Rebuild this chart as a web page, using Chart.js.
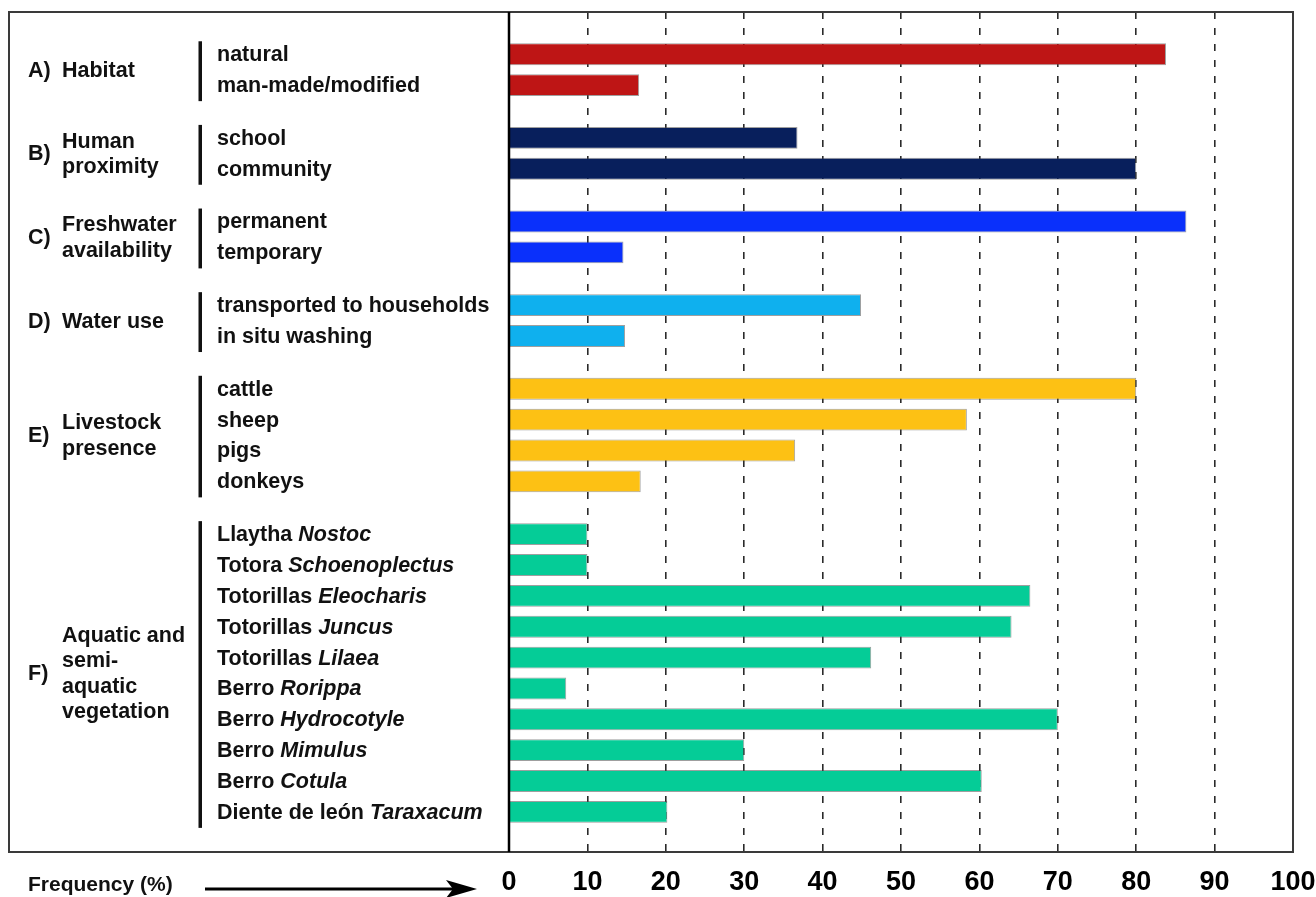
<!DOCTYPE html>
<html>
<head>
<meta charset="utf-8">
<script src="https://cdn.jsdelivr.net/npm/chart.js@4.4.1/dist/chart.umd.min.js"></script>
<style>
  body { margin: 0; background: #fff; }
</style>
</head>
<body>
<canvas id="chart" width="1316" height="897"></canvas>
<script>
// groups (left column)
const groupLetters = ['A)', 'B)', 'C)', 'D)', 'E)', 'F)'];
const groupNames = [
  ['Habitat'],
  ['Human', 'proximity'],
  ['Freshwater', 'availability'],
  ['Water use'],
  ['Livestock', 'presence'],
  ['Aquatic and', 'semi-', 'aquatic', 'vegetation']
];
const groupSizes = [2, 2, 2, 2, 4, 10];
const groupColors = ['#be1515', '#081f5c', '#0a30fb', '#0fb0ee', '#fdc114', '#05cc97'];

// items: common name + italic genus
const itemNames = [
  'natural', 'man-made/modified',
  'school', 'community',
  'permanent', 'temporary',
  'transported to households', 'in situ washing',
  'cattle', 'sheep', 'pigs', 'donkeys',
  'Llaytha', 'Totora', 'Totorillas', 'Totorillas', 'Totorillas',
  'Berro', 'Berro', 'Berro', 'Berro', 'Diente de león'
];
const itemGenus = [
  '', '', '', '', '', '', '', '', '', '', '', '',
  'Nostoc', 'Schoenoplectus', 'Eleocharis', 'Juncus', 'Lilaea',
  'Rorippa', 'Hydrocotyle', 'Mimulus', 'Cotula', 'Taraxacum'
];
const frequency = [
  83.8, 16.6,
  36.8, 80.0,
  86.4, 14.6,
  44.9, 14.8,
  80.0, 58.4, 36.5, 16.8,
  10.0, 10.0, 66.5, 64.1, 46.2, 7.3, 70.0, 30.0, 60.3, 20.2
];
const freqTicks = [0, 10, 20, 30, 40, 50, 60, 70, 80, 90, 100];

// row positions: one unit per bar, extra space between groups
const groupGap = 0.71;
const rowPos = [];
const rowColor = [];
let p = 0;
groupSizes.forEach((n, g) => {
  for (let i = 0; i < n; i++) { rowPos.push(p); rowColor.push(groupColors[g]); p += 1; }
  p += groupGap;
});
const lastPos = rowPos[rowPos.length - 1];

const FONT = '"Liberation Sans", Arial, Helvetica, sans-serif';
const labelFont = 'bold 21.5px ' + FONT;
const italicFont = 'italic bold 21.5px ' + FONT;

const leftPanel = {
  id: 'leftPanel',
  afterDraw(chart) {
    const ctx = chart.ctx, a = chart.chartArea, y = chart.scales.y;
    ctx.save();
    // frame
    ctx.strokeStyle = '#3a3a3a';
    ctx.lineWidth = 2;
    ctx.strokeRect(9, a.top, a.right - 9, a.bottom - a.top);
    // zero line
    ctx.strokeStyle = '#000';
    ctx.lineWidth = 2.5;
    ctx.beginPath();
    ctx.moveTo(a.left, a.top);
    ctx.lineTo(a.left, a.bottom);
    ctx.stroke();

    ctx.fillStyle = '#111';
    ctx.textBaseline = 'middle';
    ctx.textAlign = 'left';
    let k = 0;
    groupSizes.forEach((n, g) => {
      const y0 = y.getPixelForValue(rowPos[k]);
      const y1 = y.getPixelForValue(rowPos[k + n - 1]);
      const mid = (y0 + y1) / 2;
      ctx.font = labelFont;
      ctx.fillText(groupLetters[g], 28, mid + 1);
      const lines = groupNames[g];
      lines.forEach((t, i) => ctx.fillText(t, 62, mid + 1 + (i - (lines.length - 1) / 2) * 25.5));
      ctx.fillRect(198.5, y0 - 13, 3.5, y1 - y0 + 29);
      for (let i = 0; i < n; i++, k++) {
        const yy = y.getPixelForValue(rowPos[k]) + 1;
        ctx.font = labelFont;
        ctx.fillText(itemNames[k], 217, yy);
        if (itemGenus[k]) {
          const w = ctx.measureText(itemNames[k] + ' ').width;
          ctx.font = italicFont;
          ctx.fillText(itemGenus[k], 217 + w, yy);
        }
      }
    });

    // axis caption + arrow
    ctx.font = 'bold 21px ' + FONT;
    ctx.fillText('Frequency (%)', 28, 885);
    ctx.strokeStyle = '#000';
    ctx.lineWidth = 3;
    ctx.beginPath();
    ctx.moveTo(205, 889);
    ctx.lineTo(460, 889);
    ctx.stroke();
    ctx.fillStyle = '#000';
    ctx.beginPath();
    ctx.moveTo(477, 889);
    ctx.lineTo(446, 880);
    ctx.lineTo(453, 889);
    ctx.lineTo(446, 898);
    ctx.closePath();
    ctx.fill();
    ctx.restore();
  }
};

new Chart(document.getElementById('chart'), {
  type: 'bar',
  data: {
    datasets: [{
      data: frequency.map((v, i) => ({ x: v, y: rowPos[i] })),
      backgroundColor: rowColor,
      borderColor: 'rgba(80,80,80,0.55)',
      borderWidth: 1,
      categoryPercentage: 1,
      barPercentage: 0.71
    }]
  },
  options: {
    indexAxis: 'y',
    responsive: false,
    animation: false,
    devicePixelRatio: 1,
    layout: { padding: { left: 509, right: 23, top: 12, bottom: 0 } },
    plugins: { legend: { display: false }, tooltip: { enabled: false } },
    scales: {
      y: {
        type: 'linear',
        display: false,
        reverse: true,
        offset: false,
        bounds: 'data',
        min: -1.37,
        max: lastPos + 1.3,
        afterBuildTicks: s => { s.ticks = rowPos.map(v => ({ value: v })); }
      },
      x: {
        type: 'linear',
        min: 0,
        max: 100,
        afterBuildTicks: s => { s.ticks = freqTicks.map(v => ({ value: v })); },
        afterFit: s => { s.height = 45; s.paddingRight = 0; s.paddingLeft = 0; },
        grid: {
          drawTicks: false,
          lineWidth: 1.6,
          color: c => (c.tick && (c.tick.value === 0 || c.tick.value === 100)) ? 'rgba(0,0,0,0)' : '#2a2a2a'
        },
        border: { display: false, dash: [7, 9] },
        ticks: {
          padding: 17.5,
          color: '#000',
          font: { family: FONT, size: 27, weight: 'bold', lineHeight: 1 }
        }
      }
    }
  },
  plugins: [leftPanel]
});
</script>
</body>
</html>
